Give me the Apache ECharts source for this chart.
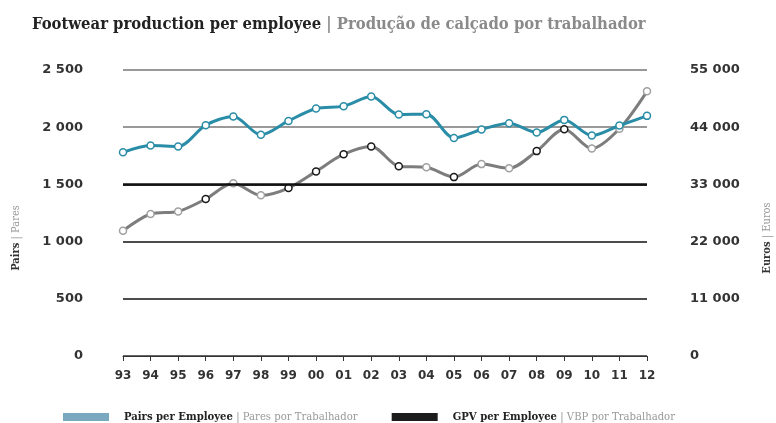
<!DOCTYPE html>
<html>
<head>
<meta charset="utf-8">
<script src="https://cdn.jsdelivr.net/npm/echarts@6/dist/echarts.min.js"></script>
<style>
html,body{margin:0;padding:0;background:#fff;}
#chart{width:776px;height:423px;}
</style>
</head>
<body>
<div id="chart"></div>
<script>
// data
const years = ['93','94','95','96','97','98','99','00','01','02','03','04','05','06','07','08','09','10','11','12'];
const pairsPerEmployee = [1780, 1840, 1832, 2018, 2094, 1933, 2055, 2164, 2184, 2268, 2111, 2114, 1906, 1980, 2035, 1953, 2064, 1927, 2015, 2099];
const gpvPerEmployee = [24100, 27300, 27800, 30200, 33200, 30900, 32300, 35500, 38800, 40300, 36500, 36300, 34400, 36900, 36100, 39400, 43600, 39900, 43700, 50900];
// years where the GPV marker is drawn with a dark ring
const darkMarkerYears = ['96','99','00','01','02','03','05','08','09'];

const font = '"DejaVu Serif Condensed", "Liberation Serif", serif';
const tickFont = '"DejaVu Sans", sans-serif';

function spaced(v) {
  return String(v).replace(/\B(?=(\d{3})+(?!\d))/g, ' ');
}

// gpv points, ring colour per year
let gpvData = gpvPerEmployee.map((v, i) => ({
  value: v,
  itemStyle: { borderColor: darkMarkerYears.indexOf(years[i]) >= 0 ? '#1a1a1a' : '#a0a0a0' }
}));

let chart = echarts.init(document.getElementById('chart'));

chart.setOption({
  animation: false,
  title: {
    text: '{a|Footwear production per employee} {b|| Produção de calçado por trabalhador}',
    left: 27, top: 11,
    textStyle: {
      rich: {
        a: { fontFamily: font, fontSize: 16.5, fontWeight: 'bold', color: '#222' },
        b: { fontFamily: font, fontSize: 16.5, color: '#8a8a8a' }
      }
    }
  },
  legend: {
    left: 58, top: 406,
    icon: 'rect', itemWidth: 46, itemHeight: 8, itemGap: 34,
    data: [
      { name: 'Pairs', itemStyle: { color: '#7aa9bf', borderWidth: 0 } },
      { name: 'GPV', itemStyle: { color: '#1c1c1c', borderWidth: 0 } }
    ],
    formatter: function (name) {
      if (name === 'Pairs') return '{a|Pairs per Employee} {b|| Pares por Trabalhador}';
      return '{a|GPV per Employee} {b|| VBP por Trabalhador}';
    },
    textStyle: {
      padding: [0, 0, 0, 10],
      rich: {
        a: { fontFamily: font, fontSize: 11.2, fontWeight: 'bold', color: '#222', lineHeight: 14 },
        b: { fontFamily: font, fontSize: 11.2, color: '#999', lineHeight: 14 }
      }
    }
  },
  grid: { left: 123, right: 129, top: 70, bottom: 67, outerBoundsMode: 'none', containLabel: false },
  xAxis: {
    type: 'category',
    data: years,
    boundaryGap: false,
    axisLine: { lineStyle: { color: '#333', width: 1 } },
    axisTick: { show: true, length: 5, lineStyle: { color: '#333' } },
    axisLabel: { fontFamily: tickFont, fontWeight: 'bold', fontSize: 12, color: '#333', margin: 14 }
  },
  yAxis: [
    {
      type: 'value', min: 0, max: 2500, interval: 500,
      name: '{a|Pairs} {b|| Pares}',
      nameLocation: 'middle', nameGap: 101, nameRotate: 90,
      nameTextStyle: {
        padding: [0, 50, 0, 0],
        rich: {
          a: { fontFamily: font, fontSize: 11, fontWeight: 'bold', color: '#333' },
          b: { fontFamily: font, fontSize: 11, color: '#999' }
        }
      },
      axisLine: { show: false },
      axisTick: { show: false },
      axisLabel: { fontFamily: tickFont, fontWeight: 'bold', fontSize: 13, color: '#333', margin: 40, formatter: spaced },
      splitLine: {
        lineStyle: {
          color: ['#333', '#111', '#111', '#111', '#777', '#777'],
          width: 1.5
        }
      }
    },
    {
      type: 'value', min: 0, max: 55000, interval: 11000,
      name: '{a|Euros} {b|| Euros}',
      nameLocation: 'middle', nameGap: 114, nameRotate: 90,
      nameTextStyle: {
        padding: [0, 50, 0, 0],
        rich: {
          a: { fontFamily: font, fontSize: 11, fontWeight: 'bold', color: '#333' },
          b: { fontFamily: font, fontSize: 11, color: '#999' }
        }
      },
      axisLine: { show: false },
      axisTick: { show: false },
      axisLabel: { fontFamily: tickFont, fontWeight: 'bold', fontSize: 13, color: '#333', margin: 43, formatter: spaced },
      splitLine: { show: false }
    }
  ],
  series: [
    {
      name: 'GPV',
      type: 'line',
      yAxisIndex: 1,
      data: gpvData,
      smooth: 0.3,
      symbol: 'circle', symbolSize: 7,
      lineStyle: { color: '#7d7d7d', width: 3 },
      itemStyle: { color: '#fff', borderWidth: 1.5 },
      z: 2
    },
    {
      name: 'Pairs',
      type: 'line',
      data: pairsPerEmployee,
      smooth: 0.3,
      symbol: 'circle', symbolSize: 7,
      lineStyle: { color: '#2a8da7', width: 3 },
      itemStyle: { color: '#fff', borderColor: '#2a8da7', borderWidth: 1.5 },
      // the 1 500 gridline is drawn heavier
      markLine: {
        silent: true, symbol: 'none', label: { show: false },
        lineStyle: { color: '#111', width: 2.5, type: 'solid' },
        data: [{ yAxis: 1500 }]
      },
      z: 3
    }
  ]
});
</script>
</body>
</html>
